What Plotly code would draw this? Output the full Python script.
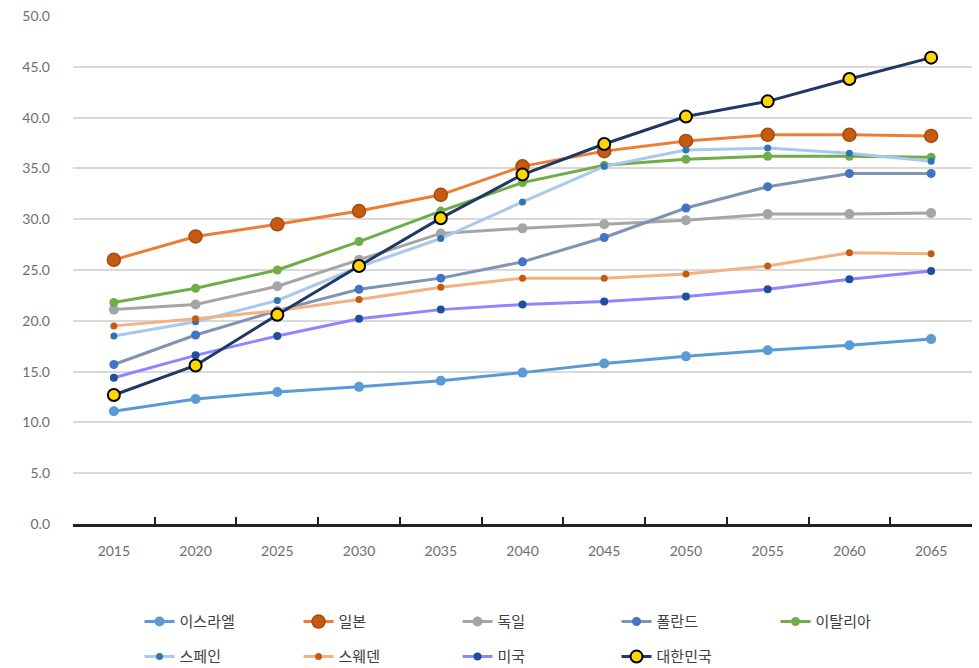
import plotly.graph_objects as go

years = ["2015", "2020", "2025", "2030", "2035", "2040", "2045", "2050", "2055", "2060", "2065"]

israel = [11.1, 12.3, 13.0, 13.5, 14.1, 14.9, 15.8, 16.5, 17.1, 17.6, 18.2]
japan = [26.0, 28.3, 29.5, 30.8, 32.4, 35.2, 36.7, 37.7, 38.3, 38.3, 38.2]
germany = [21.1, 21.6, 23.4, 26.0, 28.6, 29.1, 29.5, 29.9, 30.5, 30.5, 30.6]
poland = [15.7, 18.6, 21.0, 23.1, 24.2, 25.8, 28.2, 31.1, 33.2, 34.5, 34.5]
italy = [21.8, 23.2, 25.0, 27.8, 30.8, 33.6, 35.3, 35.9, 36.2, 36.2, 36.1]
spain = [18.5, 19.9, 22.0, 25.3, 28.1, 31.7, 35.2, 36.8, 37.0, 36.5, 35.7]
sweden = [19.5, 20.2, 21.0, 22.1, 23.3, 24.2, 24.2, 24.6, 25.4, 26.7, 26.6]
usa = [14.4, 16.6, 18.5, 20.2, 21.1, 21.6, 21.9, 22.4, 23.1, 24.1, 24.9]
korea = [12.7, 15.6, 20.6, 25.4, 30.1, 34.4, 37.4, 40.1, 41.6, 43.8, 45.9]

series = [
    ("이스라엘", israel, "#5B9BD5", "#5B9BD5", "#5B9BD5", 10, 0, "legend"),
    ("일본", japan, "#ED7D31", "#C55A11", "#A84A0E", 13, 1.5, "legend"),
    ("독일", germany, "#A5A5A5", "#A5A5A5", "#A5A5A5", 10, 0, "legend"),
    ("폴란드", poland, "#7F93B3", "#4472C4", "#4472C4", 9, 0, "legend"),
    ("이탈리아", italy, "#70AD47", "#70AD47", "#70AD47", 9, 0, "legend"),
    ("스페인", spain, "#A9C8EC", "#2E75B6", "#2E75B6", 7, 0, "legend2"),
    ("스웨덴", sweden, "#F4B183", "#C55A11", "#C55A11", 7, 0, "legend2"),
    ("미국", usa, "#8F86FF", "#1F4E9A", "#1F4E9A", 8, 0, "legend2"),
    ("대한민국", korea, "#1F3864", "#FFD700", "#000000", 12, 2, "legend2"),
]

fig = go.Figure()
for name, vals, lc, mc, mlc, ms, mlw, lg in series:
    fig.add_trace(go.Scatter(
        x=years, y=vals, name=name, mode="lines+markers", legend=lg,
        line=dict(color=lc, width=3),
        marker=dict(color=mc, size=ms, line=dict(color=mlc, width=mlw)),
    ))

legend_common = dict(
    orientation="h", xanchor="left", yanchor="top",
    entrywidth=114, entrywidthmode="pixels",
    font=dict(family="'Noto Sans CJK KR', sans-serif", size=15, color="#404040"),
    traceorder="normal", itemsizing="trace", bgcolor="rgba(0,0,0,0)",
)

fig.update_layout(
    width=979, height=668,
    margin=dict(l=73, r=7, t=16, b=144, autoexpand=False),
    plot_bgcolor="white", paper_bgcolor="white",
    font=dict(family="Lato, 'Noto Sans CJK KR', sans-serif", color="#6E6E6E", size=14),
    showlegend=True,
    legend=dict(x=0.074, y=-0.16, **legend_common),
    legend2=dict(x=0.074, y=-0.229, **legend_common),
)
fig.update_xaxes(
    type="category", range=[-0.5, 10.5], tickson="boundaries", ticks="inside",
    ticklen=7, tickwidth=2, tickcolor="#222222", showline=True, linecolor="#222222",
    linewidth=2.5, showgrid=False, ticklabelstandoff=12,
    tickfont=dict(size=14, color="#6E6E6E"),
)
fig.update_yaxes(
    range=[0, 50], dtick=5, tickformat=".1f", showgrid=True, gridcolor="#D9D9D9",
    gridwidth=1.5, showline=False, zeroline=False, ticklabelstandoff=22,
    tickfont=dict(size=14, color="#6E6E6E"),
)

fig.write_html("out.html")
